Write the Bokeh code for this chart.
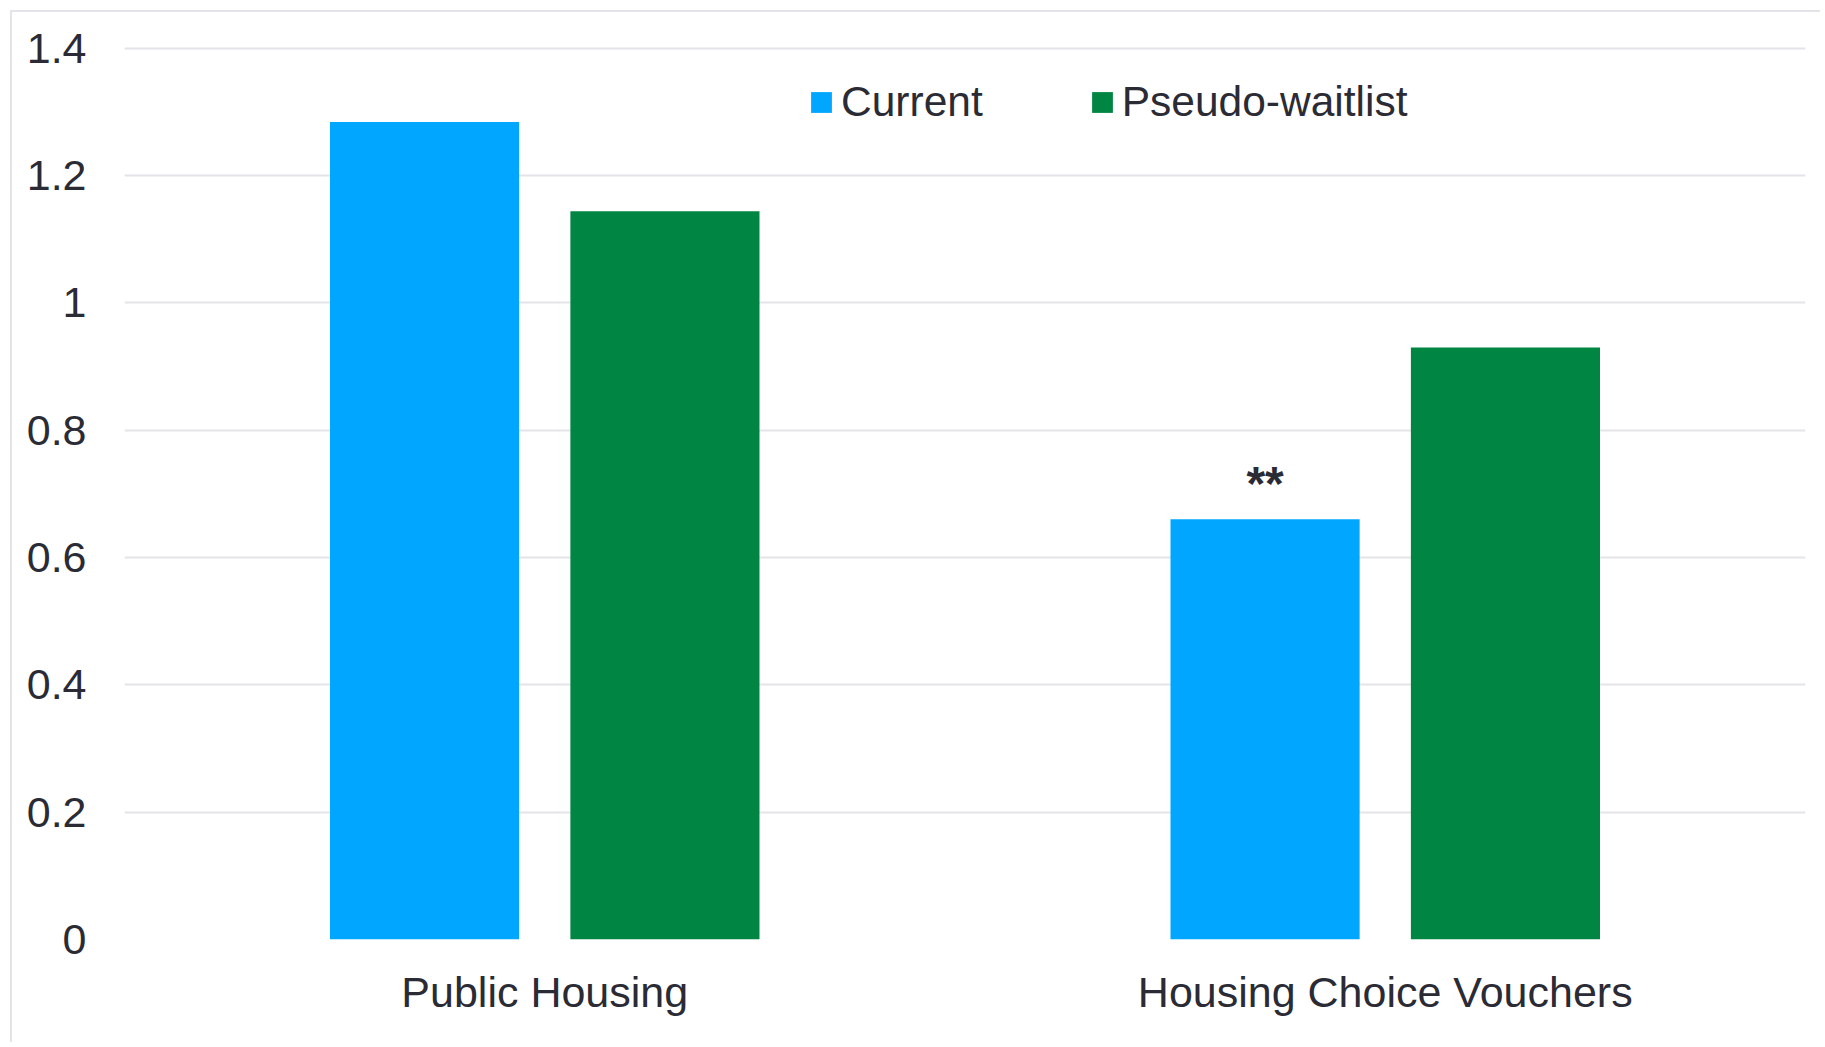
from bokeh.plotting import figure
from bokeh.models import ColumnDataSource, FactorRange, Range1d, FixedTicker, Legend, LegendItem
from bokeh.transform import dodge
from bokeh.core.properties import value
from bokeh.embed import file_html
from bokeh.resources import INLINE

categories = ["Public Housing", "Housing Choice Vouchers"]
current = [1.284, 0.660]
pseudo_waitlist = [1.144, 0.930]
current_sig = ["", "**"]
y_ticks = [0, 0.2, 0.4, 0.6, 0.8, 1.0, 1.2, 1.4]
y_tick_labels = ["0", "0.2", "0.4", "0.6", "0.8", "1", "1.2", "1.4"]

FONT = "Liberation Sans"
TXT = "#2b2b35"
BLUE = "#00a6ff"
GREEN = "#008542"

src = ColumnDataSource(dict(cat=categories, current=current, pseudo=pseudo_waitlist, sig=current_sig))

p = figure(width=1810, height=1032, x_range=FactorRange(*categories), y_range=Range1d(0, 1.42),
           output_backend="svg", toolbar_location=None,
           min_border_left=112, min_border_right=17, min_border_top=23, min_border_bottom=105)
p.styles = {"border-top": "2px solid #e3e3e9", "border-left": "2px solid #e3e3e9",
            "margin-top": "10px", "margin-left": "10px"}
p.outline_line_color = None
p.background_fill_color = "white"
p.border_fill_color = "white"

r1 = p.vbar(x=dodge("cat", -0.143, range=p.x_range), top="current", width=0.225, source=src,
            fill_color=BLUE, line_color=None)
r2 = p.vbar(x=dodge("cat", 0.143, range=p.x_range), top="pseudo", width=0.225, source=src,
            fill_color=GREEN, line_color=None)

p.text(x=dodge("cat", -0.143, range=p.x_range), y="current", text="sig", source=src,
       text_font=value(FONT), text_font_size="48px", text_font_style="bold", text_color=TXT,
       text_align="center", text_baseline="alphabetic", y_offset=-36)

# axes
p.yaxis.ticker = FixedTicker(ticks=y_ticks)
p.yaxis.major_label_overrides = {t: l for t, l in zip(y_ticks, y_tick_labels)}
for ax in (p.xaxis, p.yaxis):
    ax.axis_line_color = None
    ax.major_tick_line_color = None
    ax.minor_tick_line_color = None
    ax.major_tick_out = 0
    ax.major_tick_in = 0
    ax.major_label_text_font = FONT
    ax.major_label_text_color = TXT
    ax.major_label_text_font_size = "43px"
p.yaxis.major_label_standoff = 38
p.xaxis.major_label_standoff = 28

p.xgrid.grid_line_color = None
p.ygrid.ticker = FixedTicker(ticks=y_ticks)
p.ygrid.grid_line_color = "#e4e4ea"
p.ygrid.grid_line_width = 2

legend = Legend(items=[LegendItem(label="Current", renderers=[r1]),
                       LegendItem(label="Pseudo-waitlist", renderers=[r2])],
                orientation="horizontal", location=(684, 813))
legend.label_text_font = FONT
legend.label_text_font_size = "42.5px"
legend.label_text_color = TXT
legend.glyph_width = 26
legend.glyph_height = 26
legend.label_standoff = 7
legend.spacing = 106
legend.padding = 0
legend.margin = 0
legend.border_line_color = None
legend.background_fill_alpha = 0
p.add_layout(legend)

open("out.html", "w").write(file_html(p, INLINE))
